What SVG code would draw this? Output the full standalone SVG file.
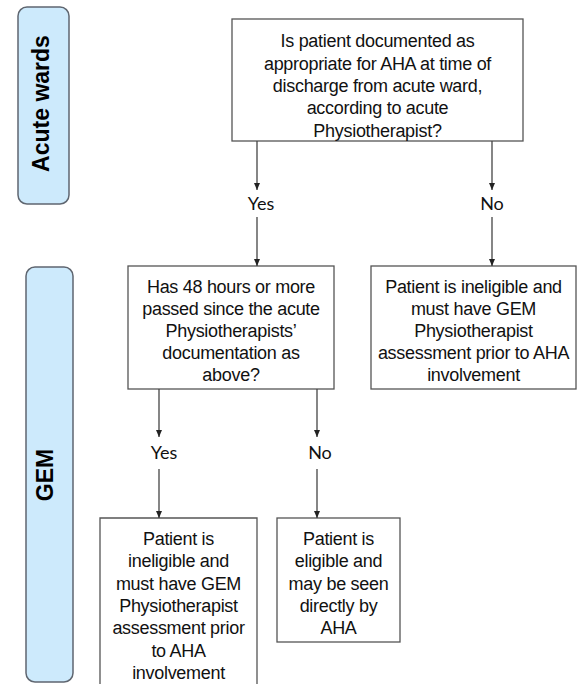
<svg xmlns="http://www.w3.org/2000/svg" width="585" height="684" viewBox="0 0 585 684">
<style>
.band{fill:#cdeafc;stroke:#5f6670;stroke-width:1.5}
.bandt{font-family:"Liberation Sans",Arial,sans-serif;font-weight:bold;font-size:23px;fill:#000;text-anchor:middle}
.box{fill:#fff;stroke:#555;stroke-width:1.3}
.bt{font-family:"Liberation Sans",Arial,sans-serif;font-size:18px;fill:#111;text-anchor:middle;letter-spacing:-0.3px}
.lbl{font-family:Lato,"Open Sans",sans-serif;font-size:18px;fill:#111;text-anchor:middle}
.ln{stroke:#444;stroke-width:1.3;fill:none}
</style>
<defs>
<marker id="a" markerUnits="userSpaceOnUse" markerWidth="8" markerHeight="8" viewBox="-4 -8 8 8" refX="0" refY="0" orient="0">
<path d="M-3,-7 L3,-7 L0,0 Z" fill="#222"/>
</marker>
</defs>
<g id="lane-acute">
<rect class="band" x="18" y="7" width="51" height="197" rx="9"/>
<text class="bandt" transform="translate(49,103.5) rotate(-90)">Acute wards</text>
</g>
<g id="lane-gem">
<rect class="band" x="26" y="267" width="47" height="415" rx="9"/>
<text class="bandt" transform="translate(53,475) rotate(-90)">GEM</text>
</g>
<g id="q1">
<rect class="box" x="232" y="19" width="291" height="122"/>
<text class="bt" x="377.5" y="47">Is patient documented as</text>
<text class="bt" x="377.5" y="69.5">appropriate for AHA at time of</text>
<text class="bt" x="377.5" y="92">discharge from acute ward,</text>
<text class="bt" x="377.5" y="114">according to acute</text>
<text class="bt" x="377.5" y="136.5">Physiotherapist?</text>
</g>
<g id="q2">
<rect class="box" x="128" y="266" width="206" height="123"/>
<text class="bt" x="231" y="293">Has 48 hours or more</text>
<text class="bt" x="231" y="315">passed since the acute</text>
<text class="bt" x="231" y="337">Physiotherapists’</text>
<text class="bt" x="231" y="359">documentation as</text>
<text class="bt" x="231" y="381">above?</text>
</g>
<g id="r1">
<rect class="box" x="371" y="266" width="205" height="123"/>
<text class="bt" x="473.5" y="293">Patient is ineligible and</text>
<text class="bt" x="473.5" y="315">must have GEM</text>
<text class="bt" x="473.5" y="337">Physiotherapist</text>
<text class="bt" x="473.5" y="359">assessment prior to AHA</text>
<text class="bt" x="473.5" y="381">involvement</text>
</g>
<g id="r2">
<path class="box" d="M100,690 V518 H257 V690"/>
<text class="bt" x="178.5" y="545">Patient is</text>
<text class="bt" x="178.5" y="567">ineligible and</text>
<text class="bt" x="178.5" y="590">must have GEM</text>
<text class="bt" x="178.5" y="612">Physiotherapist</text>
<text class="bt" x="178.5" y="634">assessment prior</text>
<text class="bt" x="178.5" y="657">to AHA</text>
<text class="bt" x="178.5" y="679">involvement</text>
</g>
<g id="r3">
<rect class="box" x="277" y="518" width="123" height="124"/>
<text class="bt" x="338.5" y="545">Patient is</text>
<text class="bt" x="338.5" y="567">eligible and</text>
<text class="bt" x="338.5" y="590">may be seen</text>
<text class="bt" x="338.5" y="612">directly by</text>
<text class="bt" x="338.5" y="634">AHA</text>
</g>
<g id="connectors">
<line class="ln" x1="257" y1="141" x2="257" y2="190" marker-end="url(#a)"/>
<text class="lbl" x="261" y="210">Yes</text>
<line class="ln" x1="257" y1="217" x2="257" y2="266" marker-end="url(#a)"/>
<line class="ln" x1="492" y1="141" x2="492" y2="190" marker-end="url(#a)"/>
<text class="lbl" x="492" y="210">No</text>
<line class="ln" x1="492" y1="217" x2="492" y2="266" marker-end="url(#a)"/>
<line class="ln" x1="159" y1="389" x2="159" y2="437" marker-end="url(#a)"/>
<text class="lbl" x="164" y="459">Yes</text>
<line class="ln" x1="159" y1="469" x2="159" y2="518" marker-end="url(#a)"/>
<line class="ln" x1="317" y1="389" x2="317" y2="437" marker-end="url(#a)"/>
<text class="lbl" x="320" y="459">No</text>
<line class="ln" x1="317" y1="469" x2="317" y2="518" marker-end="url(#a)"/>
</g>
</svg>
